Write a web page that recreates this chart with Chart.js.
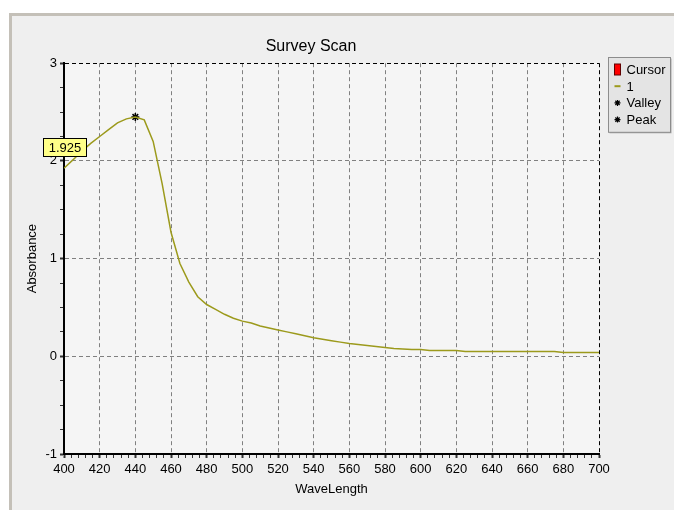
<!DOCTYPE html>
<html>
<head>
<meta charset="utf-8">
<title>Survey Scan</title>
<script src="https://cdn.jsdelivr.net/npm/chart.js@4.4.0/dist/chart.umd.min.js"></script>
<style>
  html, body { margin: 0; padding: 0; background: #fff; }
  #wrap { width: 674px; height: 510px; }
</style>
</head>
<body>
<div id="wrap"><canvas id="scanChart" width="674" height="510"></canvas></div>
<script>
// scan data (5 nm steps)
const wavelengths = [
  400, 405, 410, 415, 420, 425, 430, 435, 440, 445,
  450, 455, 460, 465, 470, 475, 480, 485, 490, 495,
  500, 505, 510, 515, 520, 525, 530, 535, 540, 545,
  550, 555, 560, 565, 570, 575, 580, 585, 590, 595,
  600, 605, 610, 615, 620, 625, 630, 635, 640, 645,
  650, 655, 660, 665, 670, 675, 680, 685, 690, 695, 700
];
const absorbance = [
  1.925, 2.01, 2.10, 2.18, 2.25, 2.32, 2.39, 2.43, 2.45, 2.42,
  2.20, 1.77, 1.27, 0.95, 0.76, 0.61, 0.53, 0.48, 0.43, 0.39,
  0.36, 0.34, 0.31, 0.29, 0.27, 0.25, 0.23, 0.21, 0.19, 0.175,
  0.16, 0.145, 0.13, 0.12, 0.11, 0.10, 0.09, 0.08, 0.075, 0.07,
  0.07, 0.06, 0.06, 0.06, 0.06, 0.05, 0.05, 0.05, 0.05, 0.05,
  0.05, 0.05, 0.05, 0.05, 0.05, 0.05, 0.04, 0.04, 0.04, 0.04, 0.04
];
const peakX = [440];
const peakY = [2.45];
const valleyX = [];
const valleyY = [];
const cursorX = [400];
const cursorY = [1.925];

const xMin = 400, xMax = 700, xMinorStep = 4, xMajorStep = 20;
const yMin = -1, yMax = 3, yMinorStep = 0.25;

const FONT = 'Arial, "Liberation Sans", sans-serif';
const LINE_COLOR = '#9c9a1c';

const toPoints = (xs, ys) => xs.map((x, i) => ({ x: x, y: ys[i] }));

// grey panel behind everything
const panelBackground = {
  id: 'panelBackground',
  beforeDraw(chart) {
    const { ctx, width, height, chartArea } = chart;
    ctx.save();
    ctx.fillStyle = '#ffffff';
    ctx.fillRect(0, 0, width, height);
    ctx.fillStyle = '#c4c0b8';
    ctx.fillRect(9, 13, width - 9, height - 13);
    ctx.fillStyle = '#efefef';
    ctx.fillRect(12, 16, width - 12, height - 16);
    ctx.fillStyle = '#f5f5f5';
    ctx.fillRect(chartArea.left, chartArea.top, chartArea.right - chartArea.left, chartArea.bottom - chartArea.top);
    ctx.restore();
  }
};

// yellow value tag at the cursor
const cursorTag = {
  id: 'cursorTag',
  afterDatasetsDraw(chart) {
    const { ctx, scales } = chart;
    const px = scales.x.getPixelForValue(cursorX[0]);
    const py = scales.y.getPixelForValue(cursorY[0]);
    const text = cursorY[0].toFixed(3);
    ctx.save();
    ctx.font = '13px ' + FONT;
    const w = Math.round(ctx.measureText(text).width) + 10;
    const h = 18;
    const left = Math.round(px - w / 2) + 0.5;
    const top = Math.round(py - 12 - h) + 0.5;
    ctx.fillStyle = '#ffff88';
    ctx.fillRect(left, top, w, h);
    ctx.strokeStyle = '#000';
    ctx.lineWidth = 1;
    ctx.strokeRect(left, top, w, h);
    ctx.fillStyle = '#000';
    ctx.textAlign = 'center';
    ctx.textBaseline = 'middle';
    ctx.fillText(text, left + w / 2, top + h / 2 + 1);
    ctx.restore();
  }
};

// boxed legend to the right of the plot
const boxLegend = {
  id: 'boxLegend',
  afterDraw(chart) {
    const { ctx, chartArea } = chart;
    const sets = chart.data.datasets;
    const x = Math.round(chartArea.right) + 9.5;
    const y = Math.round(chartArea.top) - 5.5;
    const w = 62, rowH = 16.7, h = 8 + rowH * sets.length;
    ctx.save();
    ctx.fillStyle = '#a8a8a8';
    ctx.fillRect(x + 1, y + 1, w, h);
    ctx.fillStyle = '#e4e4e4';
    ctx.fillRect(x, y, w, h);
    ctx.strokeStyle = '#8c8c8c';
    ctx.lineWidth = 1;
    ctx.strokeRect(x, y, w, h);
    ctx.font = '13px ' + FONT;
    ctx.textBaseline = 'middle';
    ctx.textAlign = 'left';
    sets.forEach((ds, i) => {
      const cy = y + 12 + i * rowH;
      const mx = x + 9;
      if (ds.legendKind === 'box') {
        ctx.fillStyle = ds.legendColor;
        ctx.fillRect(mx - 3, cy - 5.5, 6, 11);
        ctx.strokeStyle = '#600000';
        ctx.lineWidth = 1;
        ctx.strokeRect(mx - 3, cy - 5.5, 6, 11);
      } else if (ds.legendKind === 'line') {
        ctx.strokeStyle = ds.borderColor;
        ctx.lineWidth = 2;
        ctx.beginPath();
        ctx.moveTo(mx - 3, cy);
        ctx.lineTo(mx + 3, cy);
        ctx.stroke();
      } else {
        ctx.strokeStyle = '#000';
        ctx.fillStyle = '#000';
        ctx.lineWidth = 1.2;
        Chart.helpers.drawPoint(ctx, { pointStyle: 'star', radius: 3, borderWidth: 1.2 }, mx, cy);
      }
      ctx.fillStyle = '#000';
      ctx.fillText(ds.label, x + 18, cy + 1);
    });
    ctx.restore();
  }
};

const isMajorX = v => Math.abs(v % xMajorStep) < 1e-6;
const isMajorY = v => Math.abs(v - Math.round(v)) < 1e-6;

new Chart(document.getElementById('scanChart'), {
  type: 'line',
  data: {
    datasets: [
      {
        label: 'Cursor',
        data: toPoints(cursorX, cursorY),
        showLine: false,
        pointRadius: 0,
        legendKind: 'box',
        legendColor: '#ff0000'
      },
      {
        label: '1',
        data: toPoints(wavelengths, absorbance),
        borderColor: LINE_COLOR,
        borderWidth: 1.5,
        pointRadius: 0,
        tension: 0,
        fill: false,
        legendKind: 'line'
      },
      {
        label: 'Valley',
        data: toPoints(valleyX, valleyY),
        showLine: false,
        pointStyle: 'star',
        pointRadius: 4,
        borderColor: '#000',
        legendKind: 'star'
      },
      {
        label: 'Peak',
        data: toPoints(peakX, peakY),
        showLine: false,
        pointStyle: 'star',
        pointRadius: 4,
        pointBorderWidth: 1.5,
        borderColor: '#000',
        pointBorderColor: '#000',
        legendKind: 'star'
      }
    ]
  },
  options: {
    responsive: false,
    animation: false,
    layout: { padding: { left: 9, right: 61, top: 14, bottom: 0 } },
    plugins: {
      legend: { display: false },
      tooltip: { enabled: false },
      title: {
        display: true,
        text: 'Survey Scan',
        color: '#000',
        font: { family: FONT, size: 16, weight: 'normal' },
        padding: { top: 23, bottom: 7 }
      }
    },
    scales: {
      x: {
        type: 'linear',
        min: xMin,
        max: xMax,
        afterFit: s => { s.height = 56; },
        ticks: {
          stepSize: xMinorStep,
          autoSkip: false,
          maxRotation: 0,
          minRotation: 0,
          padding: 4,
          color: '#000',
          font: { family: FONT, size: 13 },
          callback: v => isMajorX(v) ? v : ''
        },
        grid: {
          color: c => {
            const v = c.tick.value;
            if (!isMajorX(v) || v === xMin) return 'rgba(0,0,0,0)';
            return v === xMax ? '#000' : '#808080';
          },
          lineWidth: 1,
          tickLength: 4,
          tickColor: '#333',
          tickWidth: c => isMajorX(c.tick.value) ? 2 : 1
        },
        border: { display: true, color: '#000', width: 2, dash: [4, 3] },
        title: {
          display: true,
          text: 'WaveLength',
          color: '#000',
          font: { family: FONT, size: 13 },
          padding: { top: 0, bottom: 13 }
        }
      },
      y: {
        type: 'linear',
        min: yMin,
        max: yMax,
        afterFit: s => { s.width = 55; },
        ticks: {
          stepSize: yMinorStep,
          autoSkip: false,
          padding: 3,
          color: '#000',
          font: { family: FONT, size: 13 },
          callback: v => isMajorY(v) ? Math.round(v) : ''
        },
        grid: {
          color: c => {
            const v = c.tick.value;
            if (!isMajorY(v) || v === yMin) return 'rgba(0,0,0,0)';
            return v === yMax ? '#000' : '#808080';
          },
          lineWidth: 1,
          tickLength: 4,
          tickColor: '#333',
          tickWidth: c => isMajorY(c.tick.value) ? 2 : 1
        },
        border: { display: true, color: '#000', width: 2, dash: [4, 3] },
        title: {
          display: true,
          text: 'Absorbance',
          color: '#000',
          font: { family: FONT, size: 13 },
          padding: { top: 16, bottom: 0 }
        }
      },
      // empty spacer axis: keeps the gap between the plot and the legend
      gap: {
        type: 'linear',
        position: 'right',
        afterFit: s => { s.width = 14; },
        ticks: { display: false },
        grid: { display: false },
        border: { display: false }
      }
    }
  },
  plugins: [panelBackground, cursorTag, boxLegend]
});
</script>
</body>
</html>
